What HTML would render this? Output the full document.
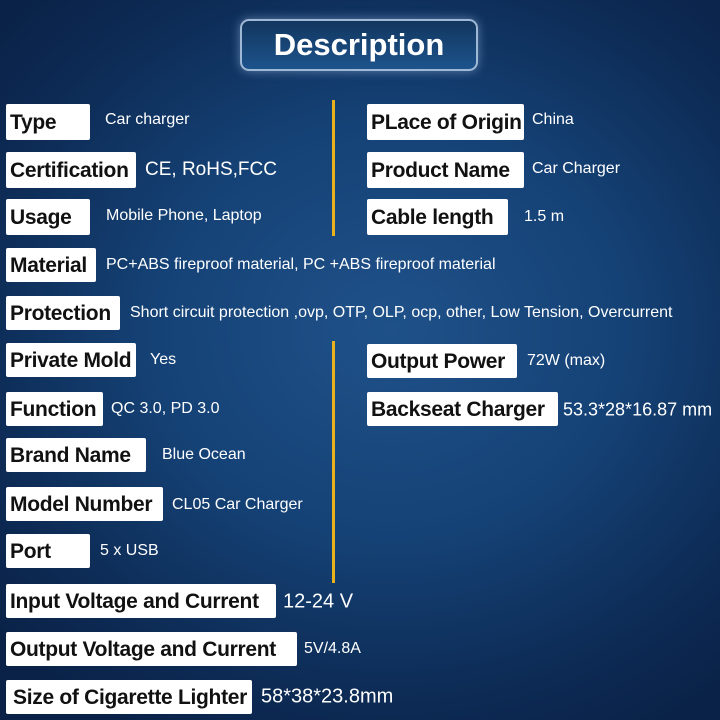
<!DOCTYPE html>
<html><head><meta charset="utf-8"><style>
body{margin:0;width:720px;height:720px;overflow:hidden;font-family:"Liberation Sans",sans-serif;
background:radial-gradient(ellipse 520px 460px at 390px 330px,#1f5189 0%,#154276 45%,#0d2b55 80%,#0a2248 100%);position:relative}
.t{position:absolute;left:240px;top:19px;width:238px;height:52px;border:2px solid #9fb8d6;border-radius:9px;box-sizing:border-box;
background:linear-gradient(#12365f,#1d538c);box-shadow:0 0 10px rgba(170,200,240,.5);color:#fff;font-weight:bold;font-size:31px;text-align:center;line-height:48px}
.l{position:absolute;background:#fff;color:#111;font-weight:bold;font-size:21px;box-sizing:border-box;padding-left:4px;padding-top:1px;display:flex;align-items:center;border-radius:2px;white-space:nowrap;overflow:hidden;letter-spacing:-0.3px}
.v{position:absolute;color:#fff;font-size:16px;white-space:nowrap;transform:translateY(-50%)}
.d{position:absolute;left:332px;width:3px;background:#e9b21c}
</style></head><body>
<div class="t">Description</div>
<div class="d" style="top:100px;height:136px"></div>
<div class="d" style="top:341px;height:242px"></div>

<div class="l" style="left:6px;top:104px;width:84px;height:36px">Type</div><div class="v" style="left:105px;top:120px">Car charger</div>
<div class="l" style="left:6px;top:152px;width:130px;height:36px">Certification</div><div class="v" style="left:145px;top:170px;font-size:19px">CE, RoHS,FCC</div>
<div class="l" style="left:6px;top:199px;width:84px;height:36px">Usage</div><div class="v" style="left:106px;top:216px">Mobile Phone, Laptop</div>
<div class="l" style="left:367px;top:104px;width:157px;height:36px">PLace of Origin</div><div class="v" style="left:532px;top:120px">China</div>
<div class="l" style="left:367px;top:152px;width:157px;height:36px">Product Name</div><div class="v" style="left:532px;top:169px">Car Charger</div>
<div class="l" style="left:367px;top:199px;width:141px;height:36px">Cable length</div><div class="v" style="left:524px;top:217px">1.5 m</div>

<div class="l" style="left:6px;top:248px;width:90px;height:34px">Material</div><div class="v" style="left:106px;top:265px">PC+ABS fireproof material, PC +ABS fireproof material</div>
<div class="l" style="left:6px;top:296px;width:114px;height:34px">Protection</div><div class="v" style="left:130px;top:313px">Short circuit protection ,ovp, OTP, OLP, ocp, other, Low Tension, Overcurrent</div>

<div class="l" style="left:6px;top:343px;width:130px;height:34px">Private Mold</div><div class="v" style="left:150px;top:360px">Yes</div>
<div class="l" style="left:6px;top:392px;width:97px;height:34px">Function</div><div class="v" style="left:111px;top:409px">QC 3.0, PD 3.0</div>
<div class="l" style="left:6px;top:438px;width:140px;height:34px">Brand Name</div><div class="v" style="left:162px;top:455px">Blue Ocean</div>
<div class="l" style="left:6px;top:487px;width:157px;height:34px">Model Number</div><div class="v" style="left:172px;top:505px">CL05 Car Charger</div>
<div class="l" style="left:6px;top:534px;width:84px;height:34px">Port</div><div class="v" style="left:100px;top:551px">5 x USB</div>
<div class="l" style="left:6px;top:584px;width:270px;height:34px">Input Voltage and Current</div><div class="v" style="left:283px;top:602px;font-size:20px">12-24 V</div>
<div class="l" style="left:6px;top:632px;width:291px;height:34px">Output Voltage and Current</div><div class="v" style="left:304px;top:649px">5V/4.8A</div>
<div class="l" style="left:6px;top:680px;width:246px;height:34px;padding-left:7px">Size of Cigarette Lighter</div><div class="v" style="left:261px;top:697px;font-size:20px">58*38*23.8mm</div>

<div class="l" style="left:367px;top:344px;width:150px;height:34px">Output Power</div><div class="v" style="left:527px;top:361px">72W (max)</div>
<div class="l" style="left:367px;top:392px;width:191px;height:34px">Backseat Charger</div><div class="v" style="left:563px;top:410px;font-size:18px">53.3*28*16.87 mm</div>
</body></html>
